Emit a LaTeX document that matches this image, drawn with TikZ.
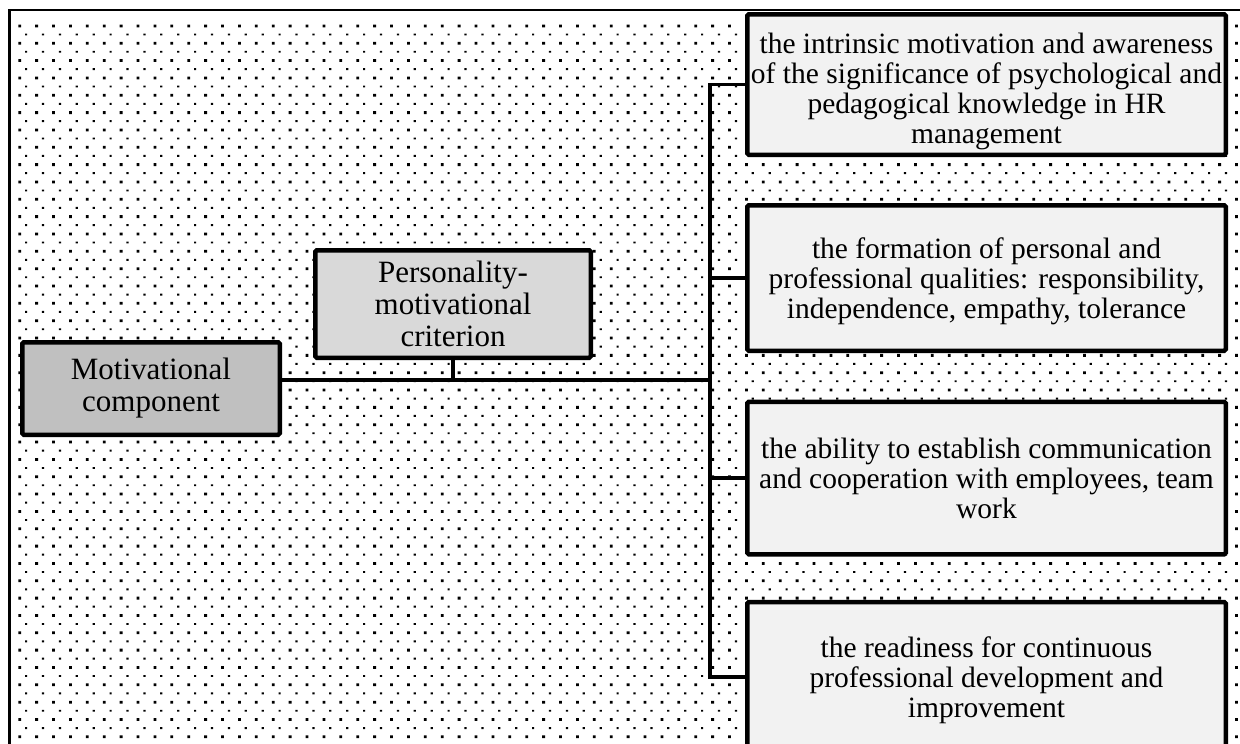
\documentclass[tikz,border=0pt]{standalone}
\usepackage{fontspec}
\setmainfont{Liberation Serif}
\definecolor{boxdark}{RGB}{192,192,192}
\definecolor{boxmid}{RGB}{217,217,217}
\definecolor{boxlight}{RGB}{242,242,242}
\begin{document}
\begin{tikzpicture}[x=1pt,y=-1pt,
  box/.style={draw=black, line width=4.5pt, rounded corners=1.5pt, inner sep=0pt,
    align=center},
  leftbox/.style={box, font=\fontsize{31}{32}\selectfont},
  itembox/.style={box, fill=boxlight, minimum width=478.5pt, text depth=0pt,
    font=\fontsize{29.5}{30}\selectfont},
  link/.style={draw=black, line width=3.8pt}]
\clip (0,0) rectangle (1240,744);
\fill[white] (0,0) rectangle (1240,744);
% dotted background: alternating rows of large and small dots
\foreach \r in {0,...,42}{
  \fill[black] foreach \c in {0,...,72}{
    ({18.3+16.9*\c},{24.5+17.34*\r}) rectangle ++(2.8,2.8)};
  \fill[black] foreach \c in {0,...,72}{
    ({25+16.9*\c},{33.5+17.34*\r}) rectangle ++(2.2,1.9)};
}
% frame
\draw[line width=2.4pt] (9.5,744) -- (9.5,10) -- (1240,10);
% boxes
\node[leftbox, fill=boxdark, minimum width=257.5pt, minimum height=92.5pt]
  (mot) at (151,388.5) {Motivational\\component};
\node[leftbox, fill=boxmid, minimum width=275.5pt, minimum height=107.5pt]
  (pers) at (453,304) {Personality-\\motivational\\criterion};
\node[itembox, minimum height=140.5pt] (b1) at (986.5,84.5)
  {\rule{0pt}{28pt}the intrinsic motivation and awareness\\of the significance of psychological and\\pedagogical knowledge in HR\\management};
\node[itembox, minimum height=145.5pt] (b2) at (986.5,278)
  {the formation of personal and\\professional qualities: responsibility,\\independence, empathy, tolerance};
\node[itembox, minimum height=152.5pt] (b3) at (986.5,478)
  {the ability to establish communication\\and cooperation with employees, team\\work};
\node[itembox, minimum height=150pt] (b4) at (986.5,677)
  {the readiness for continuous\\professional development and\\improvement};
% connectors
\coordinate (hub) at (710,380);
\draw[link] (mot.east |- hub) -- (hub);
\draw[link] (pers.south) -- (pers.south |- hub);
\draw[link] (b1.west) -| (b4.west -| hub) -- (b4.west);
\draw[link] (b2.west) -- (b2.west -| hub);
\draw[link] (b3.west) -- (b3.west -| hub);
\end{tikzpicture}
\end{document}
